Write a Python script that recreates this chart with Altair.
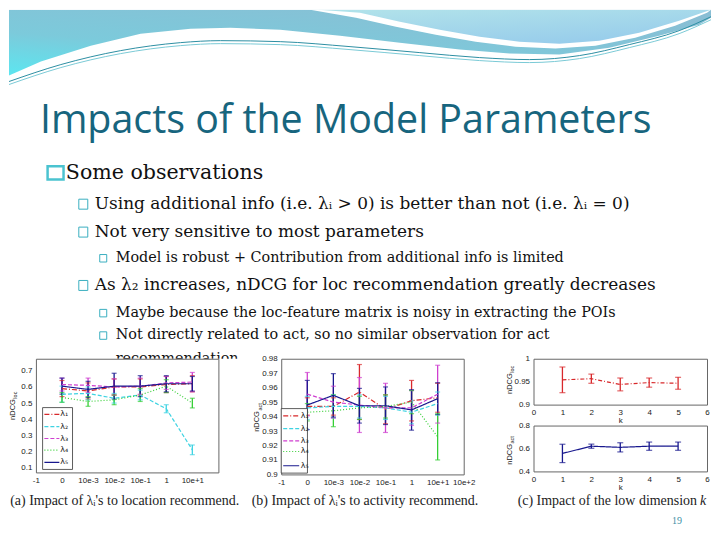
import altair as alt
import pandas as pd

# ---------------- data ----------------
series_names = ["λ₁", "λ₂", "λ₃", "λ₄", "λ₅"]
lambda_pos = [0, 1, 2, 3, 4, 5]
lambda_ticks_a = ["-1", "0", "10e-3", "10e-2", "10e-1", "1", "10e+1", ""]
lambda_ticks_b = ["-1", "0", "10e-3", "10e-2", "10e-1", "1", "10e+1", "10e+2"]

# (a) nDCG_loc vs lambda_i
loc_mean = {
    "λ₁": [0.590, 0.575, 0.600, 0.600, 0.615, 0.620],
    "λ₂": [0.555, 0.560, 0.530, 0.550, 0.465, 0.210],
    "λ₃": [0.615, 0.610, 0.600, 0.605, 0.625, 0.630],
    "λ₄": [0.535, 0.510, 0.520, 0.550, 0.605, 0.500],
    "λ₅": [0.605, 0.585, 0.605, 0.605, 0.620, 0.620],
}
loc_err = {
    "λ₁": [0.050, 0.050, 0.050, 0.050, 0.050, 0.050],
    "λ₂": [0.050, 0.040, 0.030, 0.030, 0.025, 0.030],
    "λ₃": [0.040, 0.045, 0.050, 0.050, 0.040, 0.060],
    "λ₄": [0.030, 0.030, 0.030, 0.040, 0.040, 0.030],
    "λ₅": [0.050, 0.050, 0.080, 0.065, 0.050, 0.045],
}
# (b) nDCG_act vs lambda_i
act_mean = {
    "λ₁": [0.947, 0.947, 0.957, 0.945, 0.951, 0.953],
    "λ₂": [0.946, 0.947, 0.947, 0.946, 0.943, 0.949],
    "λ₃": [0.9555, 0.950, 0.948, 0.946, 0.946, 0.9555],
    "λ₄": [0.943, 0.944, 0.946, 0.947, 0.950, 0.926],
    "λ₅": [0.948, 0.9547, 0.9475, 0.9475, 0.9446, 0.9524],
}
act_err = {
    "λ₁": [0.006, 0.006, 0.019, 0.010, 0.014, 0.010],
    "λ₂": [0.008, 0.008, 0.008, 0.008, 0.008, 0.008],
    "λ₃": [0.015, 0.011, 0.019, 0.017, 0.012, 0.020],
    "λ₄": [0.006, 0.011, 0.008, 0.008, 0.008, 0.016],
    "λ₅": [0.017, 0.015, 0.012, 0.013, 0.014, 0.011],
}
# (c) low dimension k
k_vals = [1, 2, 3, 4, 5]
k_loc_mean = [0.954, 0.9565, 0.944, 0.948, 0.9465]
k_loc_err = [0.028, 0.010, 0.014, 0.010, 0.013]
k_act_mean = [0.557, 0.620, 0.610, 0.620, 0.620]
k_act_err = [0.080, 0.018, 0.040, 0.036, 0.036]

# ---------------- styles ----------------
COLORS = ["#D8282B", "#3ED3E2", "#CF3FD0", "#35CF35", "#18188E"]
DASHES = [[5, 2, 1, 2], [4, 2], [4, 2], [1, 2], [1, 0]]
TEAL = "#17657E"
BULLET = "#3AAFC0"
MARGIN = 8
ONE = pd.DataFrame({"d": [0]})

AX = dict(title=None, grid=False, ticks=False, domain=False, labelFlush=False,
          labelOverlap=False, labelFontSize=8, labelFont="Liberation Sans",
          labelColor="#222", labelPadding=4)
FRAME = alt.ViewBackground(stroke="#666", strokeWidth=1)
NOFRAME = alt.ViewBackground(stroke="transparent")


def txt(s, x, y, **kw):
    return alt.Chart(ONE).mark_text(**kw).encode(
        x=alt.value(x), y=alt.value(y), text=alt.value(s))


def box(x1, x2, y1, y2, **kw):
    return alt.Chart(ONE).mark_rect(**kw).encode(
        x=alt.value(x1), x2=alt.value(x2), y=alt.value(y1), y2=alt.value(y2))


def ytitle(main, sub, x, yc):
    # rotated "nDCG" with subscript
    n_len, s_len = 19, 10
    y0 = yc + (n_len + s_len) / 2 - n_len
    return [
        txt(main, x, y0, angle=270, align="right", baseline="middle",
            font="Liberation Sans", fontSize=7.5, color="#222"),
        txt(sub, x + 2.5, y0 - 0.5, angle=270, align="left", baseline="middle",
            font="Liberation Sans", fontSize=5.5, color="#222"),
    ]


def legend_layers(bx, rows, sx, lx):
    layers = [box(bx[0], bx[1], bx[2], bx[3], fill="white", stroke="#333",
                  strokeWidth=0.8)]
    for lab, col, dash, ry in zip(series_names, COLORS, DASHES, rows):
        layers.append(alt.Chart(ONE).mark_rule(color=col, strokeDash=dash,
                                               strokeWidth=1.2).encode(
            x=alt.value(sx[0]), x2=alt.value(sx[1]), y=alt.value(ry)))
        layers.append(txt(lab, lx, ry, align="left", baseline="middle",
                          font="DejaVu Sans", fontSize=8, color="#222"))
    return layers


def lambda_panel(means, errs, ticks, ydom, yvals, h, leg, ytl, caption):
    rows = []
    for s in series_names:
        for x, m, e in zip(lambda_pos, means[s], errs[s]):
            rows.append(dict(series=s, x=x, y=m, lo=m - e, hi=m + e))
    df = pd.DataFrame(rows)
    label_expr = "[" + ",".join(f"'{t}'" for t in ticks) + "][datum.value + 1]"
    X = alt.X("x:Q", scale=alt.Scale(domain=[-1, 6], nice=False, zero=False),
              axis=alt.Axis(values=list(range(-1, 7)), labelExpr=label_expr, **AX))
    ys = alt.Scale(domain=ydom, nice=False, zero=False)
    yax = alt.Axis(values=yvals, format="~g", **AX)
    col = alt.Color("series:N", scale=alt.Scale(domain=series_names, range=COLORS),
                    legend=None)
    base = alt.Chart(df)
    rules = base.mark_rule(strokeWidth=1.3).encode(
        x=X, y=alt.Y("lo:Q", scale=ys, axis=yax), y2="hi:Q", color=col)
    cap_lo = base.mark_tick(orient="horizontal", size=5, thickness=1.2).encode(
        x=X, y=alt.Y("lo:Q", scale=ys, axis=yax), color=col)
    cap_hi = base.mark_tick(orient="horizontal", size=5, thickness=1.2).encode(
        x=X, y=alt.Y("hi:Q", scale=ys, axis=yax), color=col)
    lines = base.mark_line(strokeWidth=1.2).encode(
        x=X, y=alt.Y("y:Q", scale=ys, axis=yax), color=col,
        strokeDash=alt.StrokeDash("series:N",
                                  scale=alt.Scale(domain=series_names, range=DASHES),
                                  legend=None))
    layers = [rules, cap_lo, cap_hi, lines]
    layers += legend_layers(*leg)
    layers += ytitle("nDCG", ytl[0], ytl[1], ytl[2])
    layers.append(txt(caption[0], caption[1], caption[2], align="center",
                      baseline="alphabetic", font="Liberation Serif",
                      fontSize=14, color="#222"))
    return alt.layer(*layers).properties(width=183, height=h, view=FRAME)


def k_panel(mean, err, ydom, yvals, color, dash, ytl, extra=None):
    df = pd.DataFrame({"k": k_vals, "y": mean,
                       "lo": [m - e for m, e in zip(mean, err)],
                       "hi": [m + e for m, e in zip(mean, err)]})
    X = alt.X("k:Q", scale=alt.Scale(domain=[0, 6], nice=False, zero=False),
              axis=alt.Axis(values=list(range(0, 7)), format="d",
                            **{**AX, "title": "k"}, titleFontSize=8,
                            titleFont="Liberation Sans", titleFontWeight="normal",
                            titleColor="#222", titlePadding=0))
    ys = alt.Scale(domain=ydom, nice=False, zero=False)
    yax = alt.Axis(values=yvals, format="~g", **AX)
    base = alt.Chart(df)
    layers = [
        base.mark_rule(color=color, strokeWidth=1.3).encode(
            x=X, y=alt.Y("lo:Q", scale=ys, axis=yax), y2="hi:Q"),
        base.mark_tick(color=color, orient="horizontal", size=6, thickness=1.2).encode(
            x=X, y=alt.Y("lo:Q", scale=ys, axis=yax)),
        base.mark_tick(color=color, orient="horizontal", size=6, thickness=1.2).encode(
            x=X, y=alt.Y("hi:Q", scale=ys, axis=yax)),
        base.mark_line(color=color, strokeDash=dash, strokeWidth=1.2).encode(
            x=X, y=alt.Y("y:Q", scale=ys, axis=yax)),
    ]
    layers += ytitle("nDCG", ytl[0], ytl[1], ytl[2])
    if extra:
        layers += extra
    return alt.layer(*layers).properties(width=174, height=46, view=FRAME)


# ---------------- slide header (decoration + text) ----------------
band_x = [0, 40, 90, 140, 190, 230, 280, 340, 400, 460, 510, 560, 610, 660, 700, 720]
band_y = [74, 60, 44, 32, 27, 26, 28, 34, 41, 48, 52, 53, 46, 34, 23, 16]
stripe_x = [310, 356, 396, 436, 476, 516, 556, 596, 636, 676, 708, 720]
stripe_y = [0, 16, 25, 33, 40, 45, 47, 44, 36, 24, 11, 7]
bubble_x = [318, 360, 400, 440, 480, 520, 560, 600, 640, 680, 712, 720]
bubble_y = [0, 11, 20, 28, 35, 40, 42, 39, 31, 19, 6, 2]
wave_x = [0, 60, 120, 180, 220, 280, 350, 420, 480, 530, 580, 630, 680, 720]
wave_y = [80, 63, 49, 41, 39, 40, 45, 51, 56, 58, 54, 43, 29, 15]


def to_chart(xs, ys, dy=0):
    return pd.DataFrame({
        "x": [min(max(x - MARGIN, 0), 704) for x in xs],
        "y": [max(y - MARGIN + dy, 0) for y in ys]})


SX = alt.X("x:Q", scale=None, axis=None)
SY = alt.Y("y:Q", scale=None, axis=None)

band = alt.Chart(to_chart(band_x, band_y)).mark_area(
    orient="vertical", clip=True,
    color=alt.Gradient(gradient="linear",
                       stops=[alt.GradientStop(offset=0, color="#89BED4"),
                              alt.GradientStop(offset=0.6, color="#7CCADB"),
                              alt.GradientStop(offset=1, color="#5CE6F0")],
                       x1=0.8, y1=0, x2=0, y2=1)).encode(x=SX, y=SY, y2=alt.value(0))
stripe = alt.Chart(to_chart(stripe_x, stripe_y)).mark_area(
    orient="vertical", clip=True, color="white").encode(x=SX, y=SY, y2=alt.value(0))
bubble = alt.Chart(to_chart(bubble_x, bubble_y)).mark_area(
    orient="vertical", clip=True,
    color=alt.Gradient(gradient="linear",
                       stops=[alt.GradientStop(offset=0, color="#B2E3EA"),
                              alt.GradientStop(offset=1, color="#98CDEB")],
                       x1=0, y1=0, x2=0.6, y2=1)).encode(x=SX, y=SY, y2=alt.value(0))
wave1 = alt.Chart(to_chart(wave_x, wave_y)).mark_line(
    color="#2D8FA3", strokeWidth=1, interpolate="monotone", clip=True).encode(x=SX, y=SY)
wave2 = alt.Chart(to_chart(wave_x, wave_y, dy=3)).mark_line(
    color="#7ACAD6", strokeWidth=1, interpolate="monotone", clip=True).encode(x=SX, y=SY)

L2 = dict(align="left", baseline="alphabetic", font="DejaVu Serif", fontSize=17,
          color="#111", clip=True)
L3 = dict(align="left", baseline="alphabetic", font="DejaVu Serif", fontSize=14.4,
          color="#111", clip=True)

header = [
    band, stripe, bubble, wave1, wave2,
    txt("Impacts of the Model Parameters", 31, 124, align="left",
        baseline="alphabetic", font="Open Sans", fontSize=39.5, color=TEAL, clip=True),
    box(38.7, 54.7, 157, 170.3, fillOpacity=0, stroke="#4BC3D0", strokeWidth=2.5,
        clip=True),
    txt("Some observations", 57, 169.5, align="left", baseline="alphabetic",
        font="DejaVu Serif", fontSize=20.6, color="#111", clip=True),
]
level2 = [("Using additional info (i.e. λᵢ > 0) is better than not (i.e. λᵢ = 0)", 200),
          ("Not very sensitive to most parameters", 228),
          ("As λ₂ increases, nDCG for loc recommendation greatly decreases", 281.5)]
level3 = [("Model is robust + Contribution from additional info is limited", 253),
          ("Maybe because the loc-feature matrix is noisy in extracting the POIs", 308),
          ("Not directly related to act, so no similar observation for act", 330.5)]
for s, by in level2:
    header.append(box(70, 79, by - 10, by, fillOpacity=0, stroke=BULLET,
                      strokeWidth=1, clip=True))
    header.append(txt(s, 86, by, **L2))
for s, by in level3:
    header.append(box(91, 98, by - 7.5, by, fillOpacity=0, stroke=BULLET,
                      strokeWidth=1, clip=True))
    header.append(txt(s, 107, by, **L3))
header.append(txt("recommendation", 107, 354, **L3))

text_chart = alt.layer(*header).properties(width=704, height=350, view=NOFRAME)

# ---------------- panels ----------------
panel_a = lambda_panel(
    loc_mean, loc_err, lambda_ticks_a, [0.07, 0.775],
    [0.1, 0.2, 0.3, 0.4, 0.5, 0.6, 0.7], 114,
    ((6.7, 36.7, 49, 111), [55.7, 68, 80, 91.7, 104], (8.5, 23.5), 24.5),
    ("loc", -23, 45),
    ("(a) Impact of λᵢ's to location recommend.", 89, 147))
panel_b = lambda_panel(
    act_mean, act_err, lambda_ticks_b, [0.9, 0.98],
    [0.9, 0.91, 0.92, 0.93, 0.94, 0.95, 0.96, 0.97, 0.98], 116,
    ((0, 26.3, 50, 114.7), [57.3, 70, 82.3, 93, 107.3], (2, 18), 19.5),
    ("act", -24, 57),
    ("(b) Impact of λᵢ's to activity recommend.", 84, 147))

caption_c = [
    txt("(c) Impact of the low dimension", 164, 80, align="right",
        baseline="alphabetic", font="Liberation Serif", fontSize=14, color="#222"),
    txt("k", 167, 80, align="left", baseline="alphabetic", font="Liberation Serif",
        fontSize=14, fontStyle="italic", color="#222"),
    txt("19", 144, 96, align="center", baseline="middle", font="Liberation Serif",
        fontSize=10, color="#3C8FA5"),
]
c_top = k_panel(k_loc_mean, k_loc_err, [0.9, 1.0], [0.9, 0.95, 1.0],
                "#D8282B", [4, 2, 1, 2], ("loc", -24, 19))
c_bot = k_panel(k_act_mean, k_act_err, [0.4, 0.8], [0.4, 0.6, 0.8],
                "#18188E", [1, 0], ("act", -24, 23), extra=caption_c)
panel_c = alt.vconcat(c_top, c_bot, spacing=21, bounds="flush")


def spacer(w):
    return alt.Chart(ONE).mark_point(opacity=0, size=0).encode(
        x=alt.value(w / 2), y=alt.value(5)).properties(width=w, height=10, view=NOFRAME)


row2 = alt.hconcat(spacer(27), panel_a, spacer(63), panel_b, spacer(70), panel_c,
                   spacing=0, bounds="flush")

chart = alt.vconcat(text_chart, row2, spacing=0, bounds="flush").properties(
    padding=0, background="white")

chart.save("out.html", embed_options={"renderer": "svg", "actions": False})
